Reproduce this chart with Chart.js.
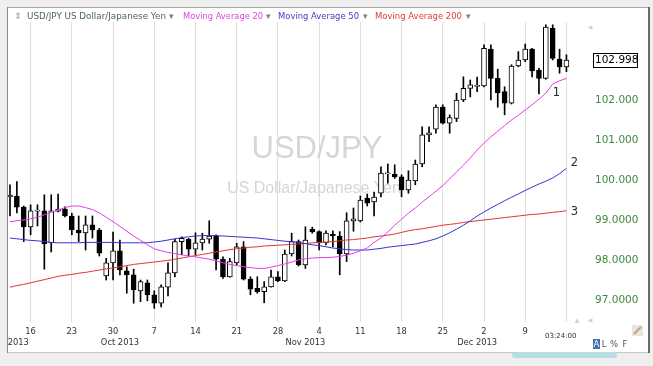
<!DOCTYPE html>
<html><head><meta charset="utf-8">
<script src="https://cdn.jsdelivr.net/npm/chart.js@4.4.1/dist/chart.umd.min.js"></script>
<style>html,body{margin:0;padding:0;background:#efefef;overflow:hidden}canvas{display:block}</style>
</head><body><canvas id="c" width="653" height="366"></canvas>
<script>
// ---- data (one entry per trading session, index 0 = 12 Sep 2013 ... 81 = 16 Dec 2013)
const OPEN  = [99.58,99.60,99.32,98.83,99.22,99.23,98.43,99.22,99.27,99.10,98.75,98.68,98.88,98.75,97.60,97.93,98.23,97.73,97.63,97.23,97.43,97.13,96.92,97.32,97.68,98.46,98.52,98.27,98.43,98.52,98.60,98.02,97.58,97.93,98.33,97.52,97.29,97.21,97.33,97.58,97.48,98.15,98.46,97.88,98.77,98.71,98.43,98.64,98.60,98.15,98.98,98.98,99.55,99.45,99.67,100.15,100.15,100.08,99.75,99.98,100.40,101.13,101.27,101.82,101.42,101.54,102.00,102.29,102.34,102.35,103.27,102.54,102.21,101.92,102.85,103.00,103.27,102.75,102.54,103.79,103.02,102.83];
const HIGH  = [99.88,99.96,99.35,99.38,99.38,99.63,99.63,99.65,99.33,99.17,99.10,99.10,99.10,98.79,98.04,98.70,98.50,97.83,97.77,97.50,97.50,97.23,97.38,97.93,98.52,98.58,98.54,98.68,98.67,98.98,98.63,98.08,98.04,98.42,98.46,97.58,97.58,97.46,97.75,97.71,98.25,98.67,98.50,98.83,98.82,98.73,98.73,98.73,98.71,99.18,99.30,99.60,99.65,99.70,100.33,100.40,100.38,100.13,100.23,100.50,101.33,101.33,101.88,101.88,101.63,102.17,102.58,102.50,102.57,103.38,103.38,102.77,102.33,102.88,103.21,103.40,103.29,102.79,103.88,103.88,103.27,103.13];
const LOW   = [99.10,99.18,98.46,98.63,98.85,97.77,98.20,99.20,99.08,98.63,98.46,98.25,98.55,98.10,97.50,97.50,97.63,97.17,96.92,96.96,96.98,96.79,96.83,97.10,97.58,98.13,98.10,98.13,98.25,98.42,97.75,97.54,97.57,97.88,97.50,97.13,97.17,96.93,97.32,97.46,97.46,98.10,97.85,97.79,98.67,98.25,98.38,98.33,97.63,97.96,98.72,98.95,99.35,99.10,99.58,99.92,100.04,99.58,99.67,99.88,100.33,100.96,101.17,101.40,101.17,101.46,101.96,102.08,102.21,102.33,102.00,101.82,101.63,101.90,102.83,102.96,102.58,102.15,102.52,103.00,102.67,102.71];
const CLOSE = [99.62,99.32,98.83,99.23,99.25,98.40,99.23,99.27,99.10,98.75,98.68,98.88,98.75,98.17,97.93,98.23,97.75,97.63,97.25,97.46,97.13,96.92,97.33,97.68,98.46,98.54,98.27,98.43,98.52,98.60,98.02,97.58,97.96,98.33,97.52,97.27,97.21,97.33,97.58,97.48,98.15,98.46,97.88,98.50,98.71,98.43,98.67,98.60,98.15,98.98,99.03,99.50,99.42,99.57,100.17,100.18,100.08,99.75,100.00,100.40,101.13,101.18,101.82,101.42,101.56,102.00,102.29,102.38,102.37,103.29,102.54,102.18,101.92,102.85,103.00,103.27,102.73,102.54,103.82,103.04,102.83,102.998];
const MA20  = [98.96,98.98,99.00,99.03,99.07,99.13,99.19,99.25,99.31,99.35,99.35,99.31,99.26,99.18,99.07,98.96,98.84,98.72,98.60,98.49,98.38,98.28,98.23,98.19,98.16,98.13,98.10,98.08,98.05,98.02,97.98,97.93,97.89,97.86,97.83,97.81,97.79,97.79,97.82,97.86,97.90,97.95,98.00,98.03,98.05,98.06,98.06,98.07,98.09,98.12,98.17,98.23,98.30,98.44,98.55,98.70,98.87,99.02,99.17,99.30,99.45,99.58,99.72,99.86,100.03,100.20,100.37,100.55,100.75,100.92,101.08,101.22,101.36,101.50,101.62,101.75,101.88,102.02,102.17,102.40,102.48,102.54];
const MA50  = [98.55,98.53,98.51,98.49,98.48,98.46,98.44,98.43,98.43,98.43,98.43,98.44,98.44,98.44,98.44,98.44,98.43,98.43,98.43,98.43,98.43,98.45,98.47,98.50,98.53,98.56,98.58,98.60,98.61,98.61,98.61,98.60,98.59,98.58,98.57,98.56,98.55,98.53,98.51,98.49,98.47,98.46,98.44,98.41,98.38,98.36,98.33,98.30,98.28,98.26,98.25,98.25,98.25,98.27,98.29,98.32,98.34,98.36,98.38,98.40,98.44,98.48,98.53,98.60,98.68,98.77,98.87,98.98,99.10,99.20,99.30,99.39,99.48,99.57,99.65,99.74,99.82,99.90,99.97,100.05,100.16,100.29];
const MA200 = [97.32,97.36,97.39,97.43,97.47,97.51,97.55,97.59,97.62,97.64,97.67,97.69,97.72,97.75,97.78,97.80,97.83,97.86,97.89,97.91,97.93,97.95,97.97,97.99,98.02,98.05,98.08,98.11,98.14,98.17,98.20,98.23,98.26,98.28,98.30,98.32,98.33,98.35,98.36,98.37,98.38,98.39,98.40,98.41,98.43,98.44,98.45,98.46,98.48,98.50,98.51,98.53,98.55,98.58,98.60,98.62,98.65,98.69,98.73,98.76,98.78,98.81,98.84,98.87,98.89,98.91,98.94,98.96,98.98,99.00,99.02,99.04,99.06,99.08,99.10,99.12,99.14,99.15,99.17,99.19,99.21,99.23];
// x ticks: Mondays (week grid) and month captions
const WEEK_TICKS  = [3,9,15,21,27,33,39,45,51,57,63,69,75,81];
const WEEK_LABELS = ['16','23','30','7','14','21','28','4','11','18','25','2','9',''];
const MONTH_TICKS  = [1.2,16,43,68];
const MONTH_LABELS = ['2013','Oct 2013','Nov 2013','Dec 2013'];
const Y_TICKS  = [97,98,99,100,101,102];
const Y_LABELS = ['97.0000','98.0000','99.0000','100.000','101.000','102.000'];
const LAST_PRICE = '102.998';
const TIME_LABEL = '03:24:00';

const idx = OPEN.map((_, i) => i);
const XMIN = -0.291, XMAX = 84.43;

const panelPlugin = {
  id: 'panel',
  beforeDraw(chart) {
    const c = chart.ctx;
    c.save();
    c.fillStyle = '#efefef'; c.fillRect(0, 0, 653, 366);
    c.fillStyle = '#ffffff'; c.fillRect(7, 7, 642, 345);
    c.fillStyle = '#a8a8a8'; c.fillRect(7, 7, 642, 1);
    c.fillStyle = '#8a8a8a'; c.fillRect(7, 7, 1, 346);
    c.fillStyle = '#6a6a6a'; c.fillRect(648, 7, 2, 346);
    c.fillStyle = '#c8c8c8'; c.fillRect(8, 352, 640, 1);
    c.fillStyle = '#b6dde4';
    c.beginPath(); c.roundRect(512, 352, 105, 6, 3); c.fill();
    c.restore();
  },
  beforeDatasetsDraw(chart) {
    const c = chart.ctx;
    c.save();
    c.fillStyle = '#d6d6d6';
    c.textAlign = 'center'; c.textBaseline = 'middle';
    c.font = '31px "Liberation Sans"';
    c.fillText('USD/JPY', 317, 149);
    c.font = '16px "Liberation Sans"';
    c.fillText('US Dollar/Japanese Yen', 314, 189);
    c.restore();
  },
  afterDraw(chart) {
    const c = chart.ctx, xs = chart.scales.x, ys = chart.scales.y;
    c.save();
    // header
    c.textBaseline = 'middle'; c.textAlign = 'left';
    const items = [
      ['\u21D5', 14, '#9a9a9a', null],
      ['USD/JPY US Dollar/Japanese Yen', 27, '#4b684b', 139],
      ['\u25BE', 169, '#808080', null],
      ['Moving Average 20', 183, '#de45de', 80],
      ['\u25BE', 266, '#808080', null],
      ['Moving Average 50', 278, '#3d3dc9', 81],
      ['\u25BE', 363, '#808080', null],
      ['Moving Average 200', 375, '#e03a3a', 87],
      ['\u25BE', 466, '#808080', null]
    ];
    c.font = '9px "DejaVu Sans"';
    for (const [t, x, col, w] of items) {
      c.fillStyle = col;
      if (w) c.fillText(t, x, 17, w); else c.fillText(t, x, 17);
    }
    // end labels of moving averages
    const last = idx.length - 1, lx = xs.getPixelForValue(last);
    c.fillStyle = '#2a2a2a'; c.font = '11.5px "DejaVu Sans"'; c.textAlign = 'center';
    c.fillText('1', lx - 10, ys.getPixelForValue(MA20[last]) + 15);
    c.fillText('2', lx + 8, ys.getPixelForValue(MA50[last]) - 5);
    c.fillText('3', lx + 8, ys.getPixelForValue(MA200[last]) + 1);
    // last price box
    const py = ys.getPixelForValue(CLOSE[last]);
    c.fillStyle = '#fff'; c.fillRect(593, py - 7, 44, 14);
    c.strokeStyle = '#000'; c.lineWidth = 1; c.strokeRect(593.5, Math.round(py) - 6.5, 44, 14);
    c.fillStyle = '#000'; c.font = '10.5px "DejaVu Sans"'; c.textAlign = 'left';
    c.fillText(LAST_PRICE, 595, Math.round(py) + 0.5);
    // time
    c.fillStyle = '#333'; c.font = '7px "DejaVu Sans"'; c.textAlign = 'left';
    c.fillText(TIME_LABEL, 545, 336);
    // A L % F
    c.fillStyle = '#3f6fae'; c.fillRect(593, 339, 7, 10);
    c.fillStyle = '#fff'; c.font = '8.5px "DejaVu Sans"'; c.textAlign = 'center';
    c.fillText('A', 596.5, 344.5);
    c.fillStyle = '#555';
    c.fillText('L', 604, 344.5); c.fillText('%', 614, 344.5); c.fillText('F', 625, 344.5);
    // small scroll arrows
    c.fillStyle = '#cfcfcf'; c.font = '6px "DejaVu Sans"';
    c.fillText('\u25B2', 577, 320); c.fillText('\u25C0', 590, 320); c.fillText('\u25C0', 590, 27);
    // pencil icon
    c.fillStyle = '#e6e6e6'; c.fillRect(632, 325, 11, 11);
    c.strokeStyle = '#c9a46a'; c.lineWidth = 2;
    c.beginPath(); c.moveTo(634, 334); c.lineTo(641, 327); c.stroke();
    c.restore();
  }
};

new Chart(document.getElementById('c'), {
  type: 'bar',
  data: {
    datasets: [
      { type: 'line', label: 'Moving Average 20', data: idx.map(i => ({x: i, y: MA20[i]})), borderColor: '#e43ee4', borderWidth: 1, pointRadius: 0, order: 0 },
      { type: 'line', label: 'Moving Average 50', data: idx.map(i => ({x: i, y: MA50[i]})), borderColor: '#3333d4', borderWidth: 1, pointRadius: 0, order: 0 },
      { type: 'line', label: 'Moving Average 200', data: idx.map(i => ({x: i, y: MA200[i]})), borderColor: '#e33333', borderWidth: 1, pointRadius: 0, order: 0 },
      { type: 'bar', label: 'body', data: idx.map(i => ({x: i, y: [OPEN[i], CLOSE[i]]})),
        backgroundColor: ctx => (CLOSE[ctx.dataIndex] >= OPEN[ctx.dataIndex] ? '#ffffff' : '#000000'),
        borderColor: '#000', borderWidth: 1, borderSkipped: false, barThickness: 5, grouped: false, order: 1 },
      { type: 'bar', label: 'wick', data: idx.map(i => ({x: i, y: [LOW[i], HIGH[i]]})),
        backgroundColor: '#000', barThickness: 1, grouped: false, order: 2 }
    ]
  },
  options: {
    responsive: false, animation: false, devicePixelRatio: 1,
    layout: { padding: { left: 8, top: 22, right: 5, bottom: 0 } },
    plugins: { legend: { display: false }, tooltip: { enabled: false } },
    scales: {
      x: {
        type: 'linear', min: XMIN, max: XMAX, offset: false,
        grid: { offset: false, drawTicks: false, lineWidth: 1,
          color: ctx => (ctx.tick && MONTH_TICKS.includes(ctx.tick.value) ? 'rgba(0,0,0,0)' : '#dedede') },
        border: { display: false },
        afterBuildTicks: s => { s.ticks = WEEK_TICKS.concat(MONTH_TICKS).map(v => ({value: v})); },
        afterFit: s => { s.height = 44; },
        ticks: {
          autoSkip: false, maxRotation: 0, padding: 4.6, color: '#333',
          font: { family: 'DejaVu Sans', size: 8.3, lineHeight: 1.3 },
          callback: v => {
            const w = WEEK_TICKS.indexOf(v);
            if (w >= 0) return WEEK_LABELS[w];
            const m = MONTH_TICKS.indexOf(v);
            return m >= 0 ? ['', MONTH_LABELS[m]] : '';
          }
        }
      },
      y: {
        type: 'linear', position: 'right', min: 96.45, max: 103.95,
        grid: { display: false, drawTicks: false },
        border: { display: false },
        afterBuildTicks: s => { s.ticks = Y_TICKS.map(v => ({value: v})); },
        afterFit: s => { s.width = 58; },
        ticks: { padding: 5, color: '#3e8a3e', font: { family: 'DejaVu Sans', size: 10.5 },
          callback: v => { const k = Y_TICKS.indexOf(v); return k >= 0 ? Y_LABELS[k] : ''; } }
      }
    }
  },
  plugins: [panelPlugin]
});
</script>
</body></html>
